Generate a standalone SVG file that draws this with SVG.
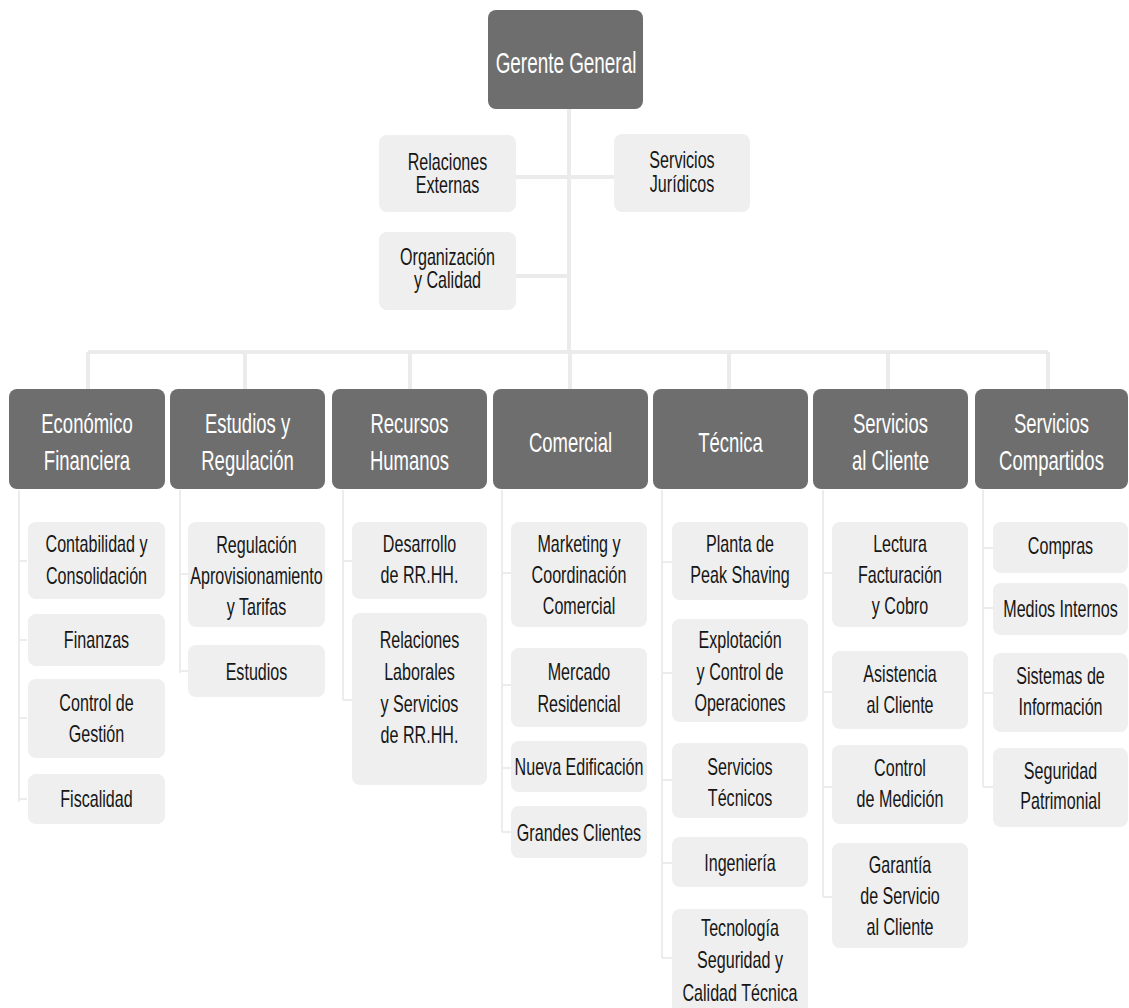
<svg xmlns="http://www.w3.org/2000/svg" width="1129" height="1008" viewBox="0 0 1129 1008">
<style>
text { font-family: "Liberation Sans", Arial, sans-serif; text-anchor: middle; }
.top rect, .hdr rect { fill: #6e6e6e; }
.box rect { fill: #efefef; }
.gt { font-size: 30px; fill: #ffffff; }
.ht { font-size: 28px; fill: #ffffff; }
.st { font-size: 23px; fill: #161616; }
.main { stroke: #ebebeb; stroke-width: 4; fill: none; }
.sub { stroke: #ececec; stroke-width: 2; fill: none; }
</style>
<rect width="1129" height="1008" fill="#ffffff"/>
<g id="connectors">
  <path class="main" d="M569 109V352M516 177H614M516 276H569M88 352H1048M88 352V389M245 352V389M410 352V389M570 352V389M729 352V389M888 352V389M1048 352V389"/>
  <path class="sub" d="M19 490V802M19 561H27M19 640H27M19 718H27M19 799H27"/>
  <path class="sub" d="M180 490V673M180 574H188M180 671H188"/>
  <path class="sub" d="M343 490V700M343 561H352M343 700H352"/>
  <path class="sub" d="M502 490V832M502 573H511M502 685H511M502 768H511M502 832H511"/>
  <path class="sub" d="M662 490V958M662 562H672M662 673H672M662 780H672M662 863H672M662 958H672"/>
  <path class="sub" d="M823 490V897M823 573H832M823 692H832M823 787H832M823 897H832"/>
  <path class="sub" d="M983 490V787M983 548H993M983 608H993M983 693H993M983 787H993"/>
</g>
<g id="gerente" class="top"><rect x="488" y="10" width="155" height="99" rx="8"/><text class="gt" transform="translate(566 73) scale(0.63 1)">Gerente General</text></g>
<g id="rel-ext" class="box"><rect x="379" y="135" width="137" height="77" rx="8"/><text class="st" transform="translate(447.5 170) scale(0.7 1)"><tspan x="0" y="0">Relaciones</tspan><tspan x="0" y="23">Externas</tspan></text></g>
<g id="serv-jur" class="box"><rect x="614" y="134" width="136" height="78" rx="8"/><text class="st" transform="translate(682 168) scale(0.7 1)"><tspan x="0" y="0">Servicios</tspan><tspan x="0" y="24">Jurídicos</tspan></text></g>
<g id="org-cal" class="box"><rect x="379" y="232" width="137" height="78" rx="8"/><text class="st" transform="translate(447.5 265) scale(0.7 1)"><tspan x="0" y="0">Organización</tspan><tspan x="0" y="23">y Calidad</tspan></text></g>

<g id="h-eco" class="hdr"><rect x="9" y="389" width="156" height="100" rx="8"/><text class="ht" transform="translate(87 433) scale(0.66 1)"><tspan x="0" y="0">Económico</tspan><tspan x="0" y="37">Financiera</tspan></text></g>
<g id="h-est" class="hdr"><rect x="170" y="389" width="155" height="100" rx="8"/><text class="ht" transform="translate(247.5 433) scale(0.66 1)"><tspan x="0" y="0">Estudios y</tspan><tspan x="0" y="37">Regulación</tspan></text></g>
<g id="h-rrhh" class="hdr"><rect x="332" y="389" width="155" height="100" rx="8"/><text class="ht" transform="translate(409.5 433) scale(0.66 1)"><tspan x="0" y="0">Recursos</tspan><tspan x="0" y="37">Humanos</tspan></text></g>
<g id="h-com" class="hdr"><rect x="493" y="389" width="155" height="100" rx="8"/><text class="ht" transform="translate(570.5 452) scale(0.66 1)">Comercial</text></g>
<g id="h-tec" class="hdr"><rect x="653" y="389" width="155" height="100" rx="8"/><text class="ht" transform="translate(730.5 452) scale(0.66 1)">Técnica</text></g>
<g id="h-scl" class="hdr"><rect x="813" y="389" width="155" height="100" rx="8"/><text class="ht" transform="translate(890.5 433) scale(0.66 1)"><tspan x="0" y="0">Servicios</tspan><tspan x="0" y="37">al Cliente</tspan></text></g>
<g id="h-sco" class="hdr"><rect x="975" y="389" width="153" height="100" rx="8"/><text class="ht" transform="translate(1051.5 433) scale(0.66 1)"><tspan x="0" y="0">Servicios</tspan><tspan x="0" y="37">Compartidos</tspan></text></g>

<g id="c1-1" class="box"><rect x="28" y="522" width="137" height="77" rx="8"/><text class="st" transform="translate(96.5 552) scale(0.7 1)"><tspan x="0" y="0">Contabilidad y</tspan><tspan x="0" y="32">Consolidación</tspan></text></g>
<g id="c1-2" class="box"><rect x="28" y="614" width="137" height="52" rx="8"/><text class="st" transform="translate(96.5 648) scale(0.7 1)">Finanzas</text></g>
<g id="c1-3" class="box"><rect x="28" y="679" width="137" height="79" rx="8"/><text class="st" transform="translate(96.5 711) scale(0.7 1)"><tspan x="0" y="0">Control de</tspan><tspan x="0" y="31">Gestión</tspan></text></g>
<g id="c1-4" class="box"><rect x="28" y="774" width="137" height="50" rx="8"/><text class="st" transform="translate(96.5 807) scale(0.7 1)">Fiscalidad</text></g>

<g id="c2-1" class="box"><rect x="188" y="522" width="137" height="105" rx="8"/><text class="st" transform="translate(256.5 553) scale(0.7 1)"><tspan x="0" y="0">Regulación</tspan><tspan x="0" y="31">Aprovisionamiento</tspan><tspan x="0" y="62">y Tarifas</tspan></text></g>
<g id="c2-2" class="box"><rect x="188" y="645" width="137" height="52" rx="8"/><text class="st" transform="translate(256.5 680) scale(0.7 1)">Estudios</text></g>

<g id="c3-1" class="box"><rect x="352" y="522" width="135" height="77" rx="8"/><text class="st" transform="translate(419.5 552) scale(0.7 1)"><tspan x="0" y="0">Desarrollo</tspan><tspan x="0" y="31">de RR.HH.</tspan></text></g>
<g id="c3-2" class="box"><rect x="352" y="613" width="135" height="172" rx="8"/><text class="st" transform="translate(419.5 648) scale(0.7 1)"><tspan x="0" y="0">Relaciones</tspan><tspan x="0" y="32">Laborales</tspan><tspan x="0" y="64">y Servicios</tspan><tspan x="0" y="95">de  RR.HH.</tspan></text></g>

<g id="c4-1" class="box"><rect x="511" y="522" width="136" height="105" rx="8"/><text class="st" transform="translate(579 552) scale(0.7 1)"><tspan x="0" y="0">Marketing y</tspan><tspan x="0" y="31">Coordinación</tspan><tspan x="0" y="62">Comercial</tspan></text></g>
<g id="c4-2" class="box"><rect x="511" y="648" width="136" height="79" rx="8"/><text class="st" transform="translate(579 680) scale(0.7 1)"><tspan x="0" y="0">Mercado</tspan><tspan x="0" y="32">Residencial</tspan></text></g>
<g id="c4-3" class="box"><rect x="511" y="741" width="136" height="51" rx="8"/><text class="st" transform="translate(579 775) scale(0.7 1)">Nueva Edificación</text></g>
<g id="c4-4" class="box"><rect x="511" y="806" width="136" height="52" rx="8"/><text class="st" transform="translate(579 841) scale(0.7 1)">Grandes Clientes</text></g>

<g id="c5-1" class="box"><rect x="672" y="522" width="136" height="78" rx="8"/><text class="st" transform="translate(740 552) scale(0.7 1)"><tspan x="0" y="0">Planta de</tspan><tspan x="0" y="31">Peak Shaving</tspan></text></g>
<g id="c5-2" class="box"><rect x="672" y="619" width="136" height="103" rx="8"/><text class="st" transform="translate(740 648) scale(0.7 1)"><tspan x="0" y="0">Explotación</tspan><tspan x="0" y="32">y Control de</tspan><tspan x="0" y="63">Operaciones</tspan></text></g>
<g id="c5-3" class="box"><rect x="672" y="743" width="136" height="75" rx="8"/><text class="st" transform="translate(740 775) scale(0.7 1)"><tspan x="0" y="0">Servicios</tspan><tspan x="0" y="31">Técnicos</tspan></text></g>
<g id="c5-4" class="box"><rect x="672" y="837" width="136" height="50" rx="8"/><text class="st" transform="translate(740 871) scale(0.7 1)">Ingeniería</text></g>
<g id="c5-5" class="box"><rect x="672" y="909" width="136" height="104" rx="8"/><text class="st" transform="translate(740 936) scale(0.7 1)"><tspan x="0" y="0">Tecnología</tspan><tspan x="0" y="32">Seguridad y</tspan><tspan x="0" y="65">Calidad Técnica</tspan></text></g>

<g id="c6-1" class="box"><rect x="832" y="522" width="136" height="105" rx="8"/><text class="st" transform="translate(900 552) scale(0.7 1)"><tspan x="0" y="0">Lectura</tspan><tspan x="0" y="31">Facturación</tspan><tspan x="0" y="62">y Cobro</tspan></text></g>
<g id="c6-2" class="box"><rect x="832" y="651" width="136" height="78" rx="8"/><text class="st" transform="translate(900 682) scale(0.7 1)"><tspan x="0" y="0">Asistencia</tspan><tspan x="0" y="31">al Cliente</tspan></text></g>
<g id="c6-3" class="box"><rect x="832" y="745" width="136" height="79" rx="8"/><text class="st" transform="translate(900 776) scale(0.7 1)"><tspan x="0" y="0">Control</tspan><tspan x="0" y="31">de Medición</tspan></text></g>
<g id="c6-4" class="box"><rect x="832" y="843" width="136" height="105" rx="8"/><text class="st" transform="translate(900 873) scale(0.7 1)"><tspan x="0" y="0">Garantía</tspan><tspan x="0" y="31">de Servicio</tspan><tspan x="0" y="62">al Cliente</tspan></text></g>

<g id="c7-1" class="box"><rect x="993" y="522" width="135" height="51" rx="8"/><text class="st" transform="translate(1060.5 554) scale(0.7 1)">Compras</text></g>
<g id="c7-2" class="box"><rect x="993" y="583" width="135" height="52" rx="8"/><text class="st" transform="translate(1060.5 617) scale(0.7 1)">Medios Internos</text></g>
<g id="c7-3" class="box"><rect x="993" y="653" width="135" height="79" rx="8"/><text class="st" transform="translate(1060.5 684) scale(0.7 1)"><tspan x="0" y="0">Sistemas de</tspan><tspan x="0" y="31">Información</tspan></text></g>
<g id="c7-4" class="box"><rect x="993" y="748" width="135" height="79" rx="8"/><text class="st" transform="translate(1060.5 779) scale(0.7 1)"><tspan x="0" y="0">Seguridad</tspan><tspan x="0" y="30">Patrimonial</tspan></text></g>
</svg>
